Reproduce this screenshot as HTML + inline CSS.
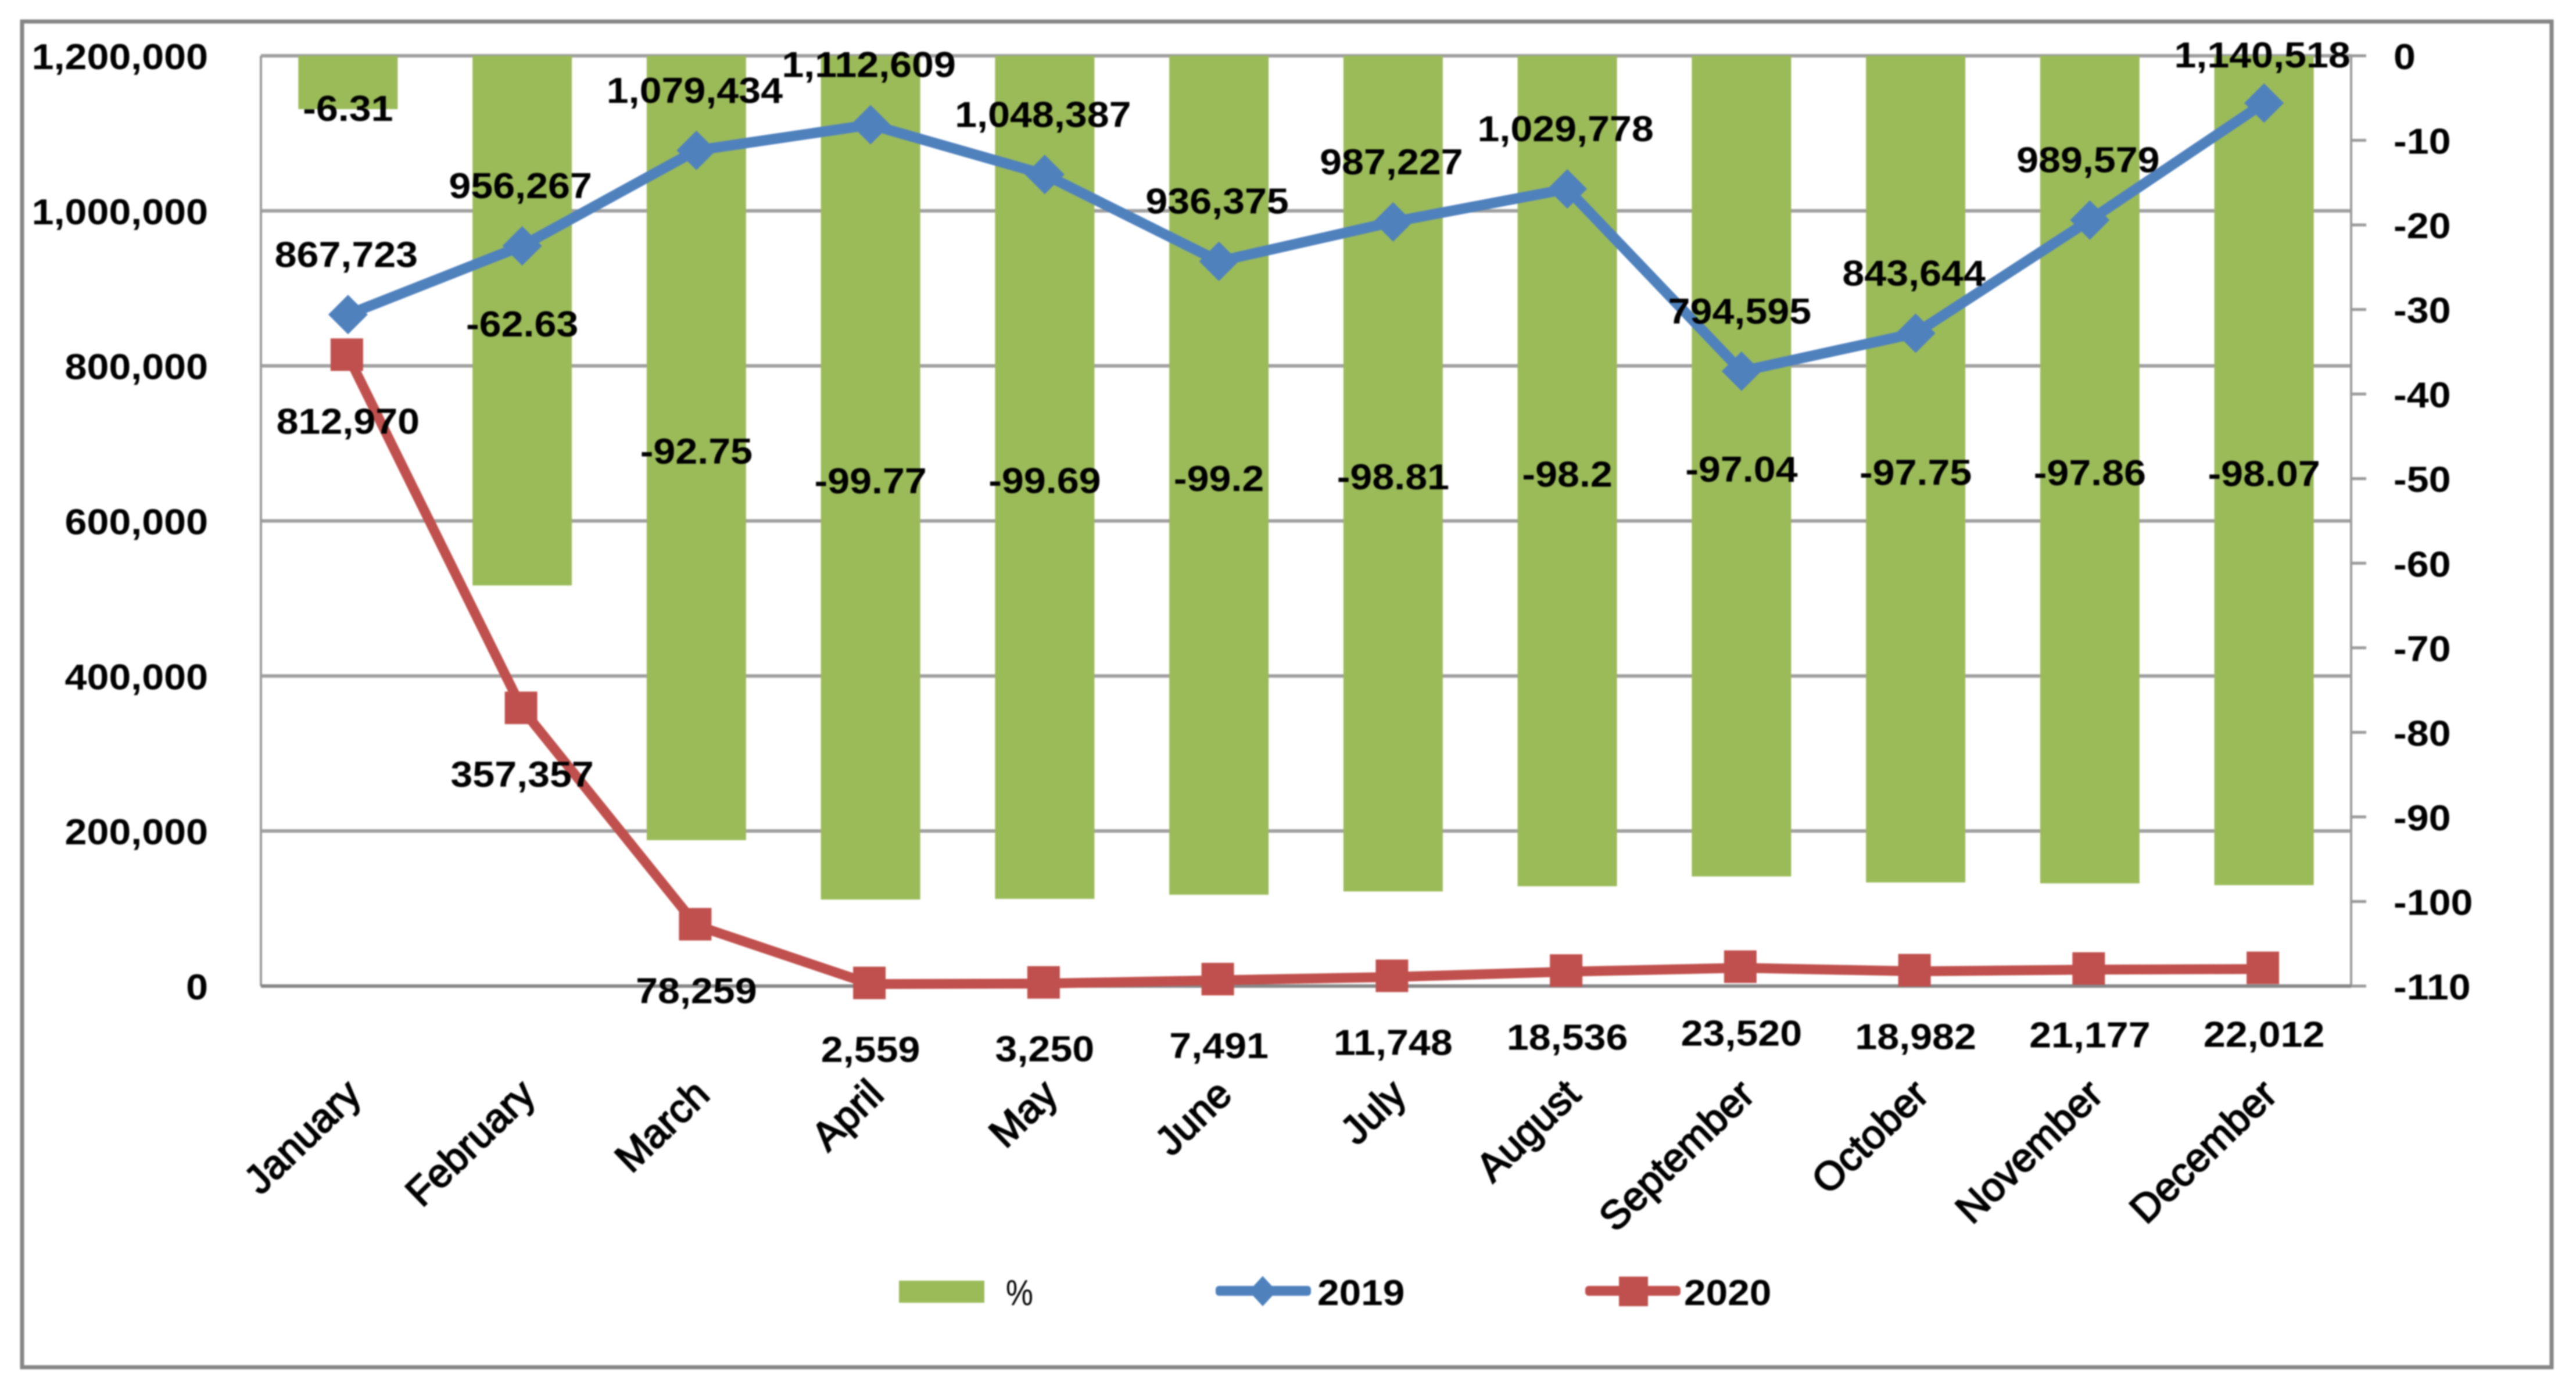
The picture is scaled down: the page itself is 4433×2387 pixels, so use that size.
<!DOCTYPE html>
<html lang="en">
<head>
<meta charset="utf-8">
<title>Monthly 2019 vs 2020 chart</title>
<style>
html,body{margin:0;padding:0;background:#fff;width:4433px;height:2387px;overflow:hidden}
svg{display:block;filter:blur(1.3px)}
text{font-family:"Liberation Sans",sans-serif;fill:#000;font-weight:700;font-size:62px}
text.cat{font-weight:400;font-size:69px;stroke:#000;stroke-width:2.2px}
</style>
</head>
<body>
<svg id="chart" xmlns="http://www.w3.org/2000/svg" width="4433" height="2387" viewBox="0 0 4433 2387">
  <rect x="38" y="37" width="4353" height="2316" fill="#fff" stroke="#868686" stroke-width="7"/>
  <g id="grid"></g>
  <g id="bars"></g>
  <g id="axes"></g>
  <g id="series"></g>
  <g id="labels"></g>
  <g id="ticks"></g>
  <g>
    <g>
      <rect x="1547" y="2204" width="147" height="38" fill="#9BBB59"/>
      <text transform="translate(1731,2246) scale(0.85,1)" style="font-weight:400">%</text>
    </g>
    <g>
      <rect x="2092" y="2213" width="164" height="17" rx="6" fill="#4F81BD"/>
      <polygon points="2173,2196 2197,2222 2173,2248 2149,2222" fill="#4F81BD"/>
      <text transform="translate(2267,2246) scale(1.09,1)">2019</text>
    </g>
    <g>
      <rect x="2728" y="2213" width="164" height="17" rx="6" fill="#C0504D"/>
      <rect x="2786" y="2197" width="50" height="51" fill="#C0504D"/>
      <text transform="translate(2898,2246) scale(1.09,1)">2020</text>
    </g>
  </g>
</svg>
<script>
const categories = ['January','February','March','April','May','June','July','August','September','October','November','December'];
const values2019 = [867723,956267,1079434,1112609,1048387,936375,987227,1029778,794595,843644,989579,1140518];
const values2020 = [812970,357357,78259,2559,3250,7491,11748,18536,23520,18982,21177,22012];
const valuesPercent = [-6.31,-62.63,-92.75,-99.77,-99.69,-99.2,-98.81,-98.2,-97.04,-97.75,-97.86,-98.07];
const leftTicks = [0,200000,400000,600000,800000,1000000,1200000];
const rightTicks = [0,-10,-20,-30,-40,-50,-60,-70,-80,-90,-100,-110];

const NS = 'http://www.w3.org/2000/svg';
const plot = {left:449, right:4046, top:96, bottom:1697};
const leftMax = 1200000;
const rightMin = -110;
const scaleX = 1.1;
const capHalf = 22;
const barWidth = 171;

function xBand(i){ return plot.left + (i + 0.5) * (plot.right - plot.left) / categories.length; }
function yLeft(v){ return plot.bottom - v / leftMax * (plot.bottom - plot.top); }
function yRight(v){ return plot.top + v / rightMin * (plot.bottom - plot.top); }
function fmt(v){ return v.toLocaleString('en-US'); }

function make(tag, attrs, parent){
  const el = document.createElementNS(NS, tag);
  for (const k in attrs) el.setAttribute(k, attrs[k]);
  document.getElementById(parent).appendChild(el);
  return el;
}
function makeText(str, x, cy, anchor, parent){
  const el = make('text', {transform:'translate(' + x + ',' + (cy + capHalf) + ') scale(' + scaleX + ',1)', 'text-anchor':anchor}, parent);
  el.textContent = str;
  return el;
}

/* gridlines */
leftTicks.forEach(function(v){
  if (v === 0) return;
  const el = make('line', {x1:plot.left, x2:plot.right, y1:yLeft(v), y2:yLeft(v), stroke:'#A0A0A0', 'stroke-width':6}, 'grid');
  
  
});

/* bars */
valuesPercent.forEach(function(v, i){
  const el = make('rect', {x:xBand(i) - barWidth / 2, y:plot.top, width:barWidth, height:yRight(v) - plot.top, fill:'#9BBB59'}, 'bars');
  
  
});

/* axes */
const axisLeft = make('line', {x1:plot.left, x2:plot.left, y1:plot.top, y2:plot.bottom, stroke:'#9A9A9A', 'stroke-width':4}, 'axes');


const axisRight = make('line', {x1:plot.right, x2:plot.right, y1:plot.top, y2:plot.bottom, stroke:'#9A9A9A', 'stroke-width':4}, 'axes');


const axisBottom = make('line', {x1:plot.left, x2:plot.right, y1:plot.bottom, y2:plot.bottom, stroke:'#868686', 'stroke-width':6}, 'axes');


rightTicks.forEach(function(v){
  const el = make('line', {x1:plot.right, x2:4072, y1:yRight(v), y2:yRight(v), stroke:'#9A9A9A', 'stroke-width':5}, 'axes');
  
  
});

/* tick labels */
leftTicks.forEach(function(v){
  const el = makeText(fmt(v), 358, yLeft(v) + 1, 'end', 'ticks');
  
  
});
rightTicks.forEach(function(v){
  const el = makeText(String(v), 4119, yRight(v) + 1, 'start', 'ticks');
  
  
});
categories.forEach(function(c, i){
  const el = make('text', {class:'cat', 'text-anchor':'end', transform:'translate(' + (xBand(i) + 26) + ',1888) rotate(-44)'}, 'ticks');
  el.textContent = c;
  
  
});

/* lines */
const path2019 = make('polyline', {points:values2019.map(function(v, i){ return xBand(i) + ',' + (yLeft(v) + 2); }).join(' '), fill:'none', stroke:'#4F81BD', 'stroke-width':18, 'stroke-linejoin':'round'}, 'series');


const path2020 = make('polyline', {points:values2020.map(function(v, i){ return xBand(i) + ',' + yLeft(v); }).join(' '), fill:'none', stroke:'#C0504D', 'stroke-width':17, 'stroke-linejoin':'round'}, 'series');



/* markers */
values2019.forEach(function(v, i){
  const x = xBand(i), y = yLeft(v) + 2, r = 34;
  const el = make('polygon', {points:x + ',' + (y - r) + ' ' + (x + r) + ',' + y + ' ' + x + ',' + (y + r) + ' ' + (x - r) + ',' + y, fill:'#4F81BD'}, 'series');
  
  
});
values2020.forEach(function(v, i){
  const x = xBand(i) - 2, y = yLeft(v) - 2, s = 56;
  const el = make('rect', {x:x - s / 2, y:y - s / 2, width:s, height:s, fill:'#C0504D'}, 'series');
  
  
});

/* data labels */
valuesPercent.forEach(function(v, i){
  const cy = Math.max((yRight(0) + yRight(v)) / 2 + 5, 186);
  const el = makeText(String(v), xBand(i), cy, 'middle', 'labels');
  
  
});
values2019.forEach(function(v, i){
  const cy = Math.max(yLeft(v) - 102, 94);
  const el = makeText(fmt(v), xBand(i) - 3, cy, 'middle', 'labels');
  
  
});
values2020.forEach(function(v, i){
  const el = makeText(fmt(v), xBand(i), yLeft(v) + 112, 'middle', 'labels');
  
  
});
</script>
</body>
</html>
